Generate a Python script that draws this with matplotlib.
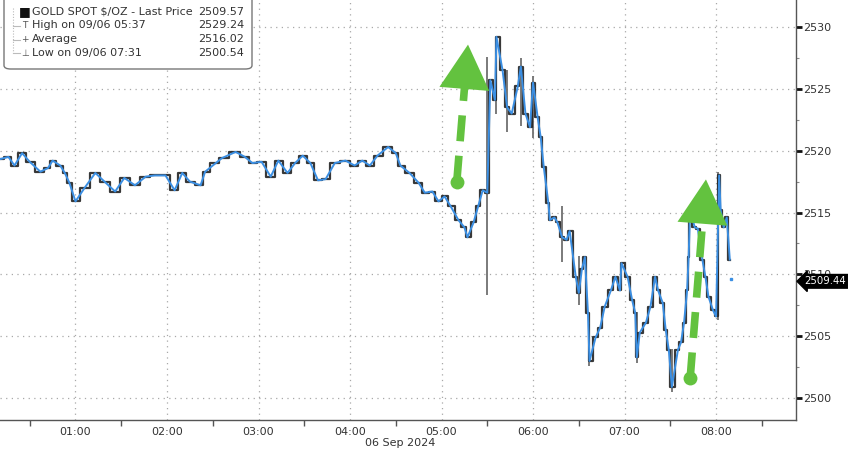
import matplotlib
matplotlib.use("Agg")
import matplotlib.pyplot as plt
from matplotlib.patches import FancyBboxPatch
import matplotlib.ticker as mticker

# ---- data (minutes after midnight, 06 Sep 2024) ----
minutes = [10, 16, 20, 25, 30, 37, 42, 45, 50, 53, 56, 60, 66, 73, 79, 86, 92, 99,
           106, 112, 119, 125, 130, 135, 142, 145, 152, 156, 165, 171, 176, 182,
           188, 193, 199, 204, 209, 214, 219, 224, 230, 237, 243, 248, 253, 258,
           265, 270, 273, 279, 285, 289, 294, 298, 302, 306, 311, 315, 317, 321,
           324, 327, 330, 332, 335, 336, 340, 343, 346, 350, 352, 355, 358, 360,
           363, 365, 367, 370, 371, 374, 376, 379, 382, 384, 388, 390, 392, 394,
           396, 397, 401, 404, 407, 411, 414, 417, 418, 422, 425, 427, 428, 430,
           434, 437, 440, 442, 445, 447, 449, 451, 455, 457, 459, 461, 462, 463,
           466, 468, 471, 473, 475, 478, 480, 482, 483, 485, 487, 489]
prices = [2519.3, 2519.5, 2518.8, 2519.8, 2519.1, 2518.3, 2518.6, 2519.2, 2518.8,
          2518.2, 2517.4, 2515.9, 2517.0, 2518.2, 2517.5, 2516.7, 2517.8, 2517.2,
          2517.9, 2518.0, 2518.0, 2516.8, 2518.2, 2517.5, 2517.2, 2518.3, 2519.0,
          2519.4, 2519.9, 2519.5, 2519.0, 2519.1, 2517.9, 2519.2, 2518.2, 2519.0,
          2519.6, 2519.0, 2517.6, 2517.7, 2519.0, 2519.2, 2518.8, 2519.2, 2518.8,
          2519.6, 2520.3, 2519.8, 2518.8, 2518.2, 2517.4, 2516.6, 2516.7, 2515.9,
          2516.3, 2515.5, 2514.4, 2513.8, 2513.0, 2514.2, 2515.5, 2516.8, 2516.6,
          2525.7, 2524.1, 2529.2, 2526.5, 2523.5, 2523.0, 2525.2, 2526.8, 2523.0,
          2521.9, 2525.5, 2522.7, 2521.1, 2518.7, 2515.8, 2514.4, 2514.6, 2514.2,
          2513.0, 2512.8, 2513.5, 2509.8, 2508.5, 2510.4, 2511.4, 2506.9, 2503.0,
          2504.9, 2505.7, 2507.4, 2508.7, 2509.8, 2508.7, 2510.9, 2509.8, 2507.9,
          2506.9, 2503.3, 2505.3, 2506.1, 2507.4, 2509.8, 2508.7, 2507.7, 2505.5,
          2503.9, 2500.9, 2503.9, 2504.5, 2506.1, 2508.7, 2511.4, 2515.2, 2513.8,
          2513.7, 2511.2, 2509.8, 2508.2, 2507.1, 2506.6, 2518.0, 2515.2, 2513.8,
          2514.6, 2511.2]
last_dot_minute = 490
last_dot_price = 2509.6

# high-low wicks (minutes, low, high)
wick_minutes = [330, 336, 343, 352, 360, 379, 390, 397, 428, 451, 481]
wick_lows = [2508.3, 2523.0, 2521.5, 2522.0, 2521.0, 2511.0, 2507.5, 2502.6, 2502.8, 2500.5, 2506.3]
wick_highs = [2527.6, 2529.2, 2526.5, 2527.5, 2526.0, 2515.5, 2511.5, 2506.0, 2507.0, 2504.0, 2518.3]

last_price_tag = "2509.44"
legend_rows = [("GOLD SPOT $/OZ - Last Price", "2509.57"),
               ("High on 09/06 05:37", "2529.24"),
               ("Average", "2516.02"),
               ("Low on 09/06 07:31", "2500.54")]
hour_ticks = [60, 120, 180, 240, 300, 360, 420, 480]
hour_labels = ["01:00", "02:00", "03:00", "04:00", "05:00", "06:00", "07:00", "08:00"]
y_ticks = [2500, 2505, 2510, 2515, 2520, 2525, 2530]
date_label = "06 Sep 2024"

# arrows: (tail_minute, tail_price, tip_minute, tip_price)
arrows = [(310, 2517.5, 317.5, 2528.8), (463, 2501.6, 473.5, 2517.9)]

plt.rcParams['font.family'] = ['DejaVu Sans']
fig = plt.figure(figsize=(8.48, 4.51), dpi=100)
ax = fig.add_axes([0, 31 / 451, 796 / 848, 420 / 451])

ax.set_xlim(10.5, 532.4)
ax.set_ylim(2498.23, 2532.18)

grid_kw = dict(color='#a8a8a8', lw=0.9, ls=(0, (1, 3.5)))
for h in hour_ticks:
    ax.axvline(h, zorder=0, **grid_kw)
for yv in y_ticks:
    ax.axhline(yv, zorder=0, **grid_kw)

ax.vlines(wick_minutes, wick_lows, wick_highs, color='#707070', lw=1.3, zorder=2)
ax.plot(minutes, prices, color='#222222', lw=1.6, drawstyle='steps-mid', zorder=3, alpha=0.9)
ax.plot(minutes, prices, color='#3b8fe3', lw=1.4, zorder=4)
ax.plot([last_dot_minute], [last_dot_price], marker='s', ms=1.8, color='#3b8fe3', zorder=4)

green = '#63c23f'
for (tm, tp, hm, hp) in arrows:
    frac = 0.2
    bm = hm - (hm - tm) * frac
    bp = hp - (hp - tp) * frac
    ax.plot([tm, bm], [tp, bp], color=green, lw=5.5, ls=(0, (3.4, 1.9)),
            dash_capstyle='butt', zorder=6)
    ax.plot([tm], [tp], marker='o', ms=10, color=green, zorder=6, mec='none')
    ax.annotate('', xy=(hm, hp), xytext=(bm, bp),
                arrowprops=dict(arrowstyle='-|>,head_length=1.6,head_width=0.9',
                                color=green, lw=0, mutation_scale=20), zorder=6)

# axes styling
for s in ['left', 'top']:
    ax.spines[s].set_visible(False)
for s in ['right', 'bottom']:
    ax.spines[s].set_color('#555555')
    ax.spines[s].set_linewidth(1.0)

ax.yaxis.tick_right()
ax.set_yticks(y_ticks)
ax.set_yticklabels([str(v) for v in y_ticks])
ax.yaxis.set_minor_locator(mticker.MultipleLocator(2.5))
ax.tick_params(axis='y', which='major', direction='out', length=4, width=2, color='#111111',
               labelsize=8, labelcolor='#333333', pad=1)
ax.tick_params(axis='y', which='minor', direction='out', length=2, width=0.8, color='#888888')

ax.set_xticks(hour_ticks)
ax.set_xticklabels(hour_labels)
ax.xaxis.set_minor_locator(mticker.FixedLocator([h - 30 for h in hour_ticks] + [510]))
ax.tick_params(axis='x', which='major', length=0, labelsize=8, labelcolor='#333333', pad=5)
ax.tick_params(axis='x', which='minor', direction='out', length=4, width=1, color='#555555')

fig.text(400 / 848, 1 - 443 / 451, date_label, ha='center', va='center', fontsize=8, color='#333333')

# last price tag
ax.annotate(last_price_tag, xy=(1.0, 2509.44), xycoords=('axes fraction', 'data'),
            xytext=(6, 0), textcoords='offset points', ha='left', va='center',
            fontsize=7.3, color='white',
            bbox=dict(boxstyle='larrow,pad=0.18', fc='black', ec='black'), zorder=10,
            annotation_clip=False)

# legend box
box = FancyBboxPatch((4 / 848, 1 - 69 / 451), 248 / 848, 80 / 451,
                     boxstyle='round,pad=0,rounding_size=0.008', transform=fig.transFigure,
                     fc='white', ec='#777777', lw=1.0, zorder=20)
fig.patches.append(box)
row_y = [12, 25.5, 39.5, 53]
symbols = ['■', 'T', '+', '⊥']
for i, ((lab, val), yy) in enumerate(zip(legend_rows, row_y)):
    yf = 1 - yy / 451
    fig.text(25 / 848, yf, symbols[i], ha='center', va='center', fontsize=9 if i == 0 else 6.5,
             color='#111111' if i == 0 else '#555555', zorder=21)
    fig.text(32 / 848, yf, lab, ha='left', va='center', fontsize=8, color='#333333', zorder=21)
    fig.text(244 / 848, yf, val, ha='right', va='center', fontsize=8, color='#333333', zorder=21)
fig.add_artist(plt.Line2D([13 / 848, 13 / 848], [1 - 8 / 451, 1 - 53 / 451], transform=fig.transFigure,
                          color='#bbbbbb', lw=0.8, ls=(0, (1, 1.5)), zorder=21))
for yy in row_y[1:]:
    fig.add_artist(plt.Line2D([13 / 848, 20 / 848], [1 - yy / 451, 1 - yy / 451],
                              transform=fig.transFigure, color='#bbbbbb', lw=0.8, zorder=21))

fig.savefig('out.png', dpi=100)
